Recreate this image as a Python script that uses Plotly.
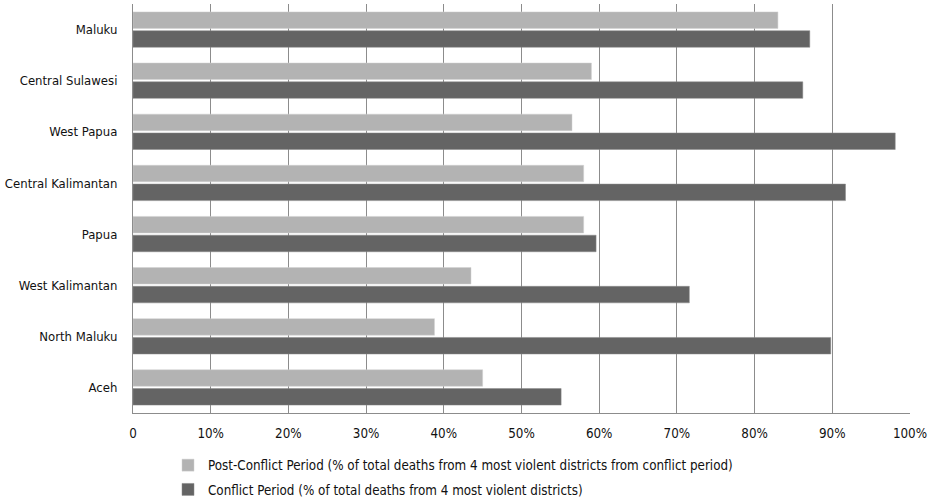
import plotly.graph_objects as go

categories = ["Maluku", "Central Sulawesi", "West Papua", "Central Kalimantan",
              "Papua", "West Kalimantan", "North Maluku", "Aceh"]
post_conflict = [83.0, 59.0, 56.5, 58.0, 58.0, 43.5, 38.8, 45.0]
conflict = [87.1, 86.2, 98.1, 91.7, 59.6, 71.6, 89.8, 55.1]
tick_vals = [0, 10, 20, 30, 40, 50, 60, 70, 80, 90, 100]
tick_text = ["0", "10%", "20%", "30%", "40%", "50%", "60%", "70%", "80%", "90%", "100%"]

FONT = "DejaVu Sans Condensed, Liberation Sans Narrow, sans-serif"

W, H = 935, 502

fig = go.Figure()
fig.add_trace(go.Bar(
    y=categories, x=post_conflict, orientation="h",
    name="Post-Conflict Period (% of total deaths from 4 most violent districts from conflict period)",
    marker=dict(color="#b3b3b3", line=dict(color="#d0d0d0", width=0.5)),
    legendgroup="a",
))
fig.add_trace(go.Bar(
    y=categories, x=conflict, orientation="h",
    name="Conflict Period (% of total deaths from 4 most violent districts)",
    marker=dict(color="#646464", line=dict(color="#8a8a8a", width=0.5)),
    legendgroup="b",
))

fig.update_layout(
    width=W, height=H,
    margin=dict(l=133, r=25, t=4, b=89),
    barmode="group", bargap=0.264, bargroupgap=0.12,
    plot_bgcolor="white", paper_bgcolor="white",
    font=dict(family=FONT, size=13.3, color="#111111"),
    xaxis=dict(
        range=[0, 100], tickvals=tick_vals, ticktext=tick_text, tickangle=0,
        showgrid=True, gridcolor="#8c8c8c", gridwidth=1,
        showline=True, linecolor="#8c8c8c", linewidth=1,
        ticks="outside", ticklen=8, tickcolor="rgba(0,0,0,0)",
        zeroline=False, fixedrange=True, automargin=False,
    ),
    yaxis=dict(
        autorange="reversed", showgrid=False,
        showline=True, linecolor="#8c8c8c", linewidth=1,
        ticks="outside", ticklen=12, tickcolor="rgba(0,0,0,0)",
        tickfont=dict(size=13), automargin=False,
    ),
    showlegend=True,
    legend=dict(
        orientation="v", x=(168 - 133) / 777, xanchor="left",
        y=1 - 450 / H, yref="container", yanchor="top", traceorder="grouped",
        tracegroupgap=4, font=dict(family=FONT, size=13.3),
        bgcolor="rgba(0,0,0,0)",
    ),
)

fig.write_html(
    "out.html",
    config={"displayModeBar": False},
    post_script="document.body.style.margin='0';"
                "document.body.style.overflow='hidden';"
                "document.documentElement.style.overflow='hidden';",
)
